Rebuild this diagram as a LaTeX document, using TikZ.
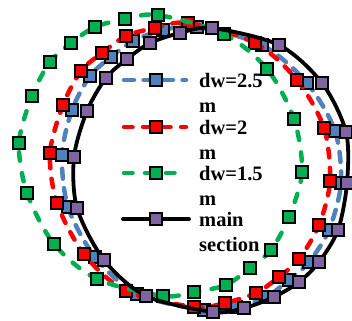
\documentclass[tikz,border=0pt]{standalone}
\usepackage{fontspec}
\setmainfont{Liberation Serif}
\definecolor{dwblue}{HTML}{4F81BD}
\definecolor{dwred}{HTML}{FF0000}
\definecolor{dwgreen}{HTML}{00B050}
\definecolor{mainpurple}{HTML}{8064A2}

\begin{document}
\begin{tikzpicture}[x=1pt, y=-1pt, line cap=round]
  % stijlen
  \tikzset{
    sq/.style={rectangle, draw=black, line width=1.2pt, minimum size=12pt, inner sep=0pt},
    lineA/.style={dwblue, line width=4.5pt, dash pattern=on 10pt off 9.5pt},
    lineB/.style={dwred, line width=4.5pt, dash pattern=on 8.5pt off 10.5pt},
    lineC/.style={dwgreen, line width=4.5pt, dash pattern=on 8.5pt off 12.5pt},
    lineM/.style={black, line width=3.8pt},
    legtext/.style={font=\bfseries\fontsize{20.5}{25}\selectfont, align=left, anchor=north west, inner sep=0pt}
  }
  \useasboundingbox (0,0) rectangle (352,320);
  % punten
  \foreach \u/\v [count=\i] in {197/27,262/45,307/83,335/131,341/183,329/230,309/262,289/280,266/297,236/307,204/310,137/294,95/257,68/207,62/155,72/110,90/76,111/57,133/41,163/30}
    \coordinate (a\i) at (\u,\v);
  \foreach \u/\v [count=\i] in {188/23,255/43,297/80,324/128,330/181,319/225,299/259,279/277,256/293,225/303,194/307,126/291,84/254,57/203,50/153,63/105,81/71,102/53,126/36,155/28}
    \coordinate (b\i) at (\u,\v);
  \foreach \u/\v [count=\i] in {158/15,224/34,267/69,294/119,302/172,289/217,271/250,250/268,226/285,194/292,163/296,97/279,54/244,27/193,19/143,32/96,50/62,71/43,95/27,125/19}
    \coordinate (c\i) at (\u,\v);
  \foreach \u/\v [count=\i] in {212/28,279/45,322/83,346/132,347/183,338/230,319/262,299/282,274/297,244/308,213/312,146/296,104/260,77/208,74/157,87/111,106/78,127/59,150/43,180/33}
    \coordinate (m\i) at (\u,\v);
  % krommen met markers
  \draw[lineA] plot[smooth cycle, samples at={1,...,20}] (a\x);
  \foreach \i in {1,...,20} \node[sq, fill=dwblue] (ma\i) at (a\i) {};
  \draw[lineB] plot[smooth cycle, samples at={1,...,20}] (b\x);
  \foreach \i in {1,...,20} \node[sq, fill=dwred] (mb\i) at (b\i) {};
  \draw[lineC] plot[smooth cycle, samples at={1,...,20}] (c\x);
  \foreach \i in {1,...,20} \node[sq, fill=dwgreen] (mc\i) at (c\i) {};
  \draw[lineM] plot[smooth cycle, samples at={1,...,20}] (m\x);
  \foreach \i in {1,...,20} \node[sq, fill=mainpurple] (mm\i) at (m\i) {};
  % legenda
  \draw[lineA] (124,80) -- (186,80);
  \node[sq, fill=dwblue] (mkA) at (156,80) {};
  \node[legtext] (txtA) at (199,73) {dw=2.5\\m};
  \draw[lineB] (124,127) -- (186,127);
  \node[sq, fill=dwred] (mkB) at (156,127) {};
  \node[legtext] (txtB) at (199,120) {dw=2\\m};
  \draw[lineC] (124,173) -- (186,173);
  \node[sq, fill=dwgreen] (mkC) at (156,173) {};
  \node[legtext] (txtC) at (199,166) {dw=1.5\\m};
  \draw[lineM] (123,219) -- (189,219);
  \node[sq, fill=mainpurple] (mkM) at (156,219) {};
  \node[legtext] (txtM) at (199,212) {main\\section};
\end{tikzpicture}
\end{document}
